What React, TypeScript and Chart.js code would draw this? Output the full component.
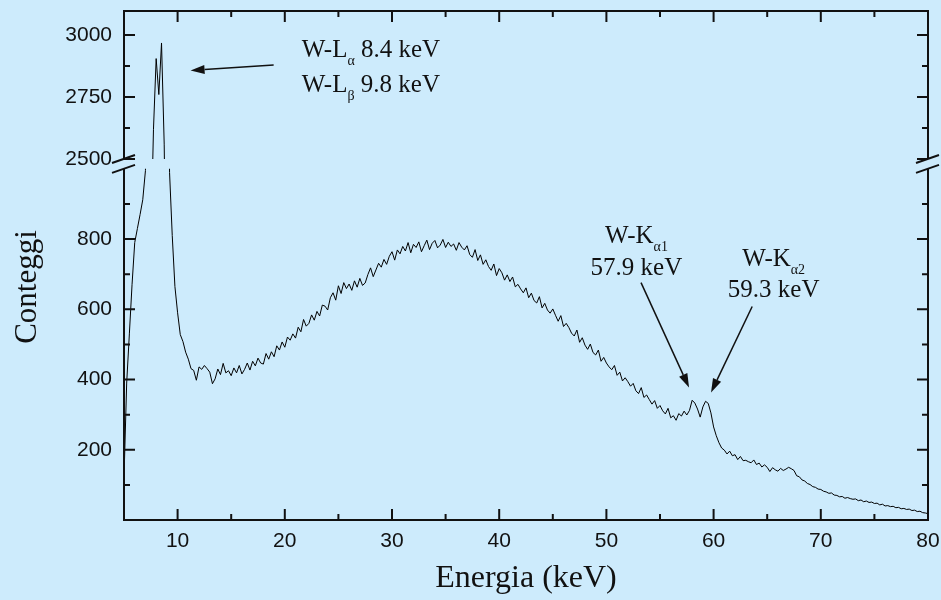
import React, { useEffect, useRef } from 'react';
import { Chart, registerables } from 'chart.js';

Chart.register(...registerables);

// ---------- data ----------
const energyStart = 5; // keV, first channel
const energyStep = 0.25; // keV per channel

// counts per channel, 5.00 .. 80.00 keV (8 channels = 2 keV per row)
const counts = [
  120, 390, 530, 670, 790, 830, 870, 912, // 5
  995, 1500, 2150, 2620, 2905, 2760, 2968, 2560, // 7
  1700, 990, 810, 665, 590, 528, 508, 478, // 9
  458, 431, 426, 398, 436, 429, 440, 431, // 11
  421, 388, 402, 430, 414, 446, 419, 425, // 13
  411, 433, 419, 440, 416, 429, 447, 427, // 15
  452, 439, 461, 447, 444, 474, 458, 479, // 17
  465, 496, 484, 507, 492, 521, 512, 530, // 19
  518, 549, 536, 571, 552, 560, 584, 569, // 21
  594, 581, 612, 609, 598, 633, 647, 626, // 23
  667, 645, 676, 659, 672, 654, 681, 663, // 25
  688, 668, 675, 699, 718, 693, 712, 731, // 27
  720, 742, 728, 751, 764, 740, 769, 758, // 29
  779, 766, 790, 761, 785, 776, 792, 764, // 31
  781, 797, 770, 788, 796, 775, 783, 799, // 33
  776, 791, 779, 786, 768, 790, 777, 769, // 35
  781, 756, 748, 770, 739, 755, 728, 741, // 37
  722, 711, 729, 696, 716, 704, 683, 698, // 39
  679, 692, 664, 671, 658, 647, 661, 633, // 41
  646, 625, 618, 636, 604, 617, 598, 589, // 43
  601, 583, 566, 582, 551, 560, 548, 532, // 45
  524, 541, 506, 519, 498, 486, 501, 477, // 47
  470, 484, 452, 463, 447, 436, 428, 440, // 49
  412, 421, 396, 405, 394, 381, 389, 368, // 51
  360, 377, 349, 356, 343, 330, 340, 318, // 53
  326, 311, 302, 318, 291, 297, 284, 303, // 55
  296, 310, 299, 312, 341, 333, 316, 293, // 57
  322, 338, 332, 305, 265, 240, 220, 205, // 59
  199, 188, 196, 183, 186, 172, 181, 169, // 61
  170, 166, 163, 171, 158, 162, 151, 157, // 63
  150, 138, 149, 143, 139, 147, 141, 145, // 65
  150, 146, 141, 126, 123, 114, 111, 104, // 67
  101, 95, 93, 88, 87, 82, 80, 76, // 69
  77, 71, 70, 66, 67, 62, 64, 61, // 71
  59, 60, 55, 57, 52, 54, 50, 51, // 73
  47, 48, 43, 45, 40, 41, 38, 39, // 75
  35, 36, 32, 33, 30, 31, 27, 28, // 77
  24, 25, 21, 20, 18, // 79 .. 80
];

const xRange = [5, 80];
const xMajorTicks = [10, 20, 30, 40, 50, 60, 70, 80];
const xMinorTicks = [15, 25, 35, 45, 55, 65, 75];

const lowRange = [0, 1028];
const lowMajorTicks = [200, 400, 600, 800];
const lowMinorTicks = [100, 300, 500, 700, 900];
const lowBreakValue = 1000;

const highRange = [2500, 3097];
const highMajorTicks = [2500, 2750, 3000];
const highMinorTicks = [2625, 2875];

const xTitle = 'Energia (keV)';
const yTitle = 'Conteggi';

// peak annotations (data coordinates)
const labelAxes = ['yHigh', 'yHigh', 'yLow', 'yLow', 'yLow', 'yLow'];
const labelX = [21.57, 21.57, 52.8, 52.8, 65.6, 65.6];
const labelY = [2911, 2770, 790, 699, 724, 636];
const labelAlign = ['left', 'left', 'center', 'center', 'center', 'center'];
const labelMain = ['W-L', 'W-L', 'W-K', '57.9 keV', 'W-K', '59.3 keV'];
const labelSub = ['α', 'β', 'α1', '', 'α2', ''];
const labelRest = [' 8.4 keV', ' 9.8 keV', '', '', '', ''];

const arrowAxes = ['yHigh', 'yLow', 'yLow'];
const arrowFrom = [[18.96, 2879], [53.23, 676], [63.6, 608]];
const arrowTo = [[11.21, 2857], [57.71, 377], [59.76, 363]];

// ---------- styles ----------
const BG = '#cdebfc';
const INK = '#111111';
const SANS = '"Liberation Sans", Arial, sans-serif';
const SERIF = '"Liberation Serif", "Times New Roman", serif';

function drawRich(ctx: CanvasRenderingContext2D, x: number, y: number, align: string, main: string, sub: string, rest: string) {
  const mainFont = `25px ${SERIF}`;
  const subFont = `14px ${SERIF}`;
  ctx.font = mainFont;
  const w1 = ctx.measureText(main).width;
  const w3 = rest ? ctx.measureText(rest).width : 0;
  ctx.font = subFont;
  const w2 = sub ? ctx.measureText(sub).width : 0;
  const total = w1 + w2 + w3;
  let cx = align === 'center' ? x - total / 2 : x;
  ctx.textAlign = 'left';
  ctx.textBaseline = 'alphabetic';
  ctx.font = mainFont;
  ctx.fillText(main, cx, y);
  cx += w1;
  if (sub) {
    ctx.font = subFont;
    ctx.fillText(sub, cx, y + 8);
    cx += w2;
  }
  if (rest) {
    ctx.font = mainFont;
    ctx.fillText(rest, cx, y);
  }
}

function drawArrow(ctx: CanvasRenderingContext2D, x1: number, y1: number, x2: number, y2: number) {
  const ang = Math.atan2(y2 - y1, x2 - x1);
  const len = 14;
  const hw = 4.5;
  const bx = x2 - len * Math.cos(ang);
  const by = y2 - len * Math.sin(ang);
  ctx.lineWidth = 1.5;
  ctx.beginPath();
  ctx.moveTo(x1, y1);
  ctx.lineTo(bx, by);
  ctx.stroke();
  ctx.beginPath();
  ctx.moveTo(x2, y2);
  ctx.lineTo(bx + hw * Math.sin(ang), by - hw * Math.cos(ang));
  ctx.lineTo(bx - hw * Math.sin(ang), by + hw * Math.cos(ang));
  ctx.closePath();
  ctx.fill();
}

const bgPlugin = {
  id: 'bgFill',
  beforeDraw(chart: any) {
    const { ctx, width, height } = chart;
    ctx.save();
    ctx.fillStyle = BG;
    ctx.fillRect(0, 0, width, height);
    ctx.restore();
  },
};

const clipPlugin = {
  id: 'segmentClip',
  beforeDatasetDraw(chart: any, args: any) {
    const { ctx, chartArea } = chart;
    const ys = args.meta.yScale;
    let top = ys.top;
    const bottom = ys.bottom;
    if (ys.id === 'yLow') top = ys.getPixelForValue(lowBreakValue);
    ctx.save();
    ctx.beginPath();
    ctx.rect(chartArea.left, top, chartArea.right - chartArea.left, bottom - top);
    ctx.clip();
  },
  afterDatasetDraw(chart: any) {
    chart.ctx.restore();
  },
};

const framePlugin = {
  id: 'frame',
  afterDraw(chart: any) {
    const { ctx, chartArea } = chart;
    const { left, right, top, bottom } = chartArea;
    const xs = chart.scales.x;
    const yH = chart.scales.yHigh;
    const yL = chart.scales.yLow;
    const brTop = yH.bottom;
    const brBot = yL.getPixelForValue(lowBreakValue);
    ctx.save();
    ctx.strokeStyle = INK;
    ctx.fillStyle = INK;
    ctx.lineWidth = 2;
    ctx.lineCap = 'butt';
    // frame lines with break
    ctx.beginPath();
    ctx.moveTo(left, top); ctx.lineTo(right, top);
    ctx.moveTo(left, bottom); ctx.lineTo(right, bottom);
    ctx.moveTo(left, top - 1); ctx.lineTo(left, brTop);
    ctx.moveTo(left, brBot); ctx.lineTo(left, bottom + 1);
    ctx.moveTo(right, top - 1); ctx.lineTo(right, brTop);
    ctx.moveTo(right, brBot); ctx.lineTo(right, bottom + 1);
    ctx.stroke();
    // x ticks (bottom and top, inward)
    ctx.beginPath();
    xMajorTicks.forEach((v) => {
      const px = xs.getPixelForValue(v);
      ctx.moveTo(px, bottom); ctx.lineTo(px, bottom - 11);
      ctx.moveTo(px, top); ctx.lineTo(px, top + 11);
    });
    xMinorTicks.forEach((v) => {
      const px = xs.getPixelForValue(v);
      ctx.moveTo(px, bottom); ctx.lineTo(px, bottom - 6);
      ctx.moveTo(px, top); ctx.lineTo(px, top + 6);
    });
    // y ticks (left and right, inward)
    const yt = (sc: any, v: number, len: number) => {
      const py = sc.getPixelForValue(v);
      ctx.moveTo(left, py); ctx.lineTo(left + len, py);
      ctx.moveTo(right, py); ctx.lineTo(right - len, py);
    };
    lowMajorTicks.forEach((v) => yt(yL, v, 11));
    lowMinorTicks.forEach((v) => yt(yL, v, 6));
    highMajorTicks.forEach((v) => yt(yH, v, 11));
    highMinorTicks.forEach((v) => yt(yH, v, 6));
    ctx.stroke();
    // break marks
    ctx.beginPath();
    [left, right].forEach((ax) => {
      [brTop, brBot].forEach((py) => {
        ctx.moveTo(ax - 12, py + 4);
        ctx.lineTo(ax + 11, py - 4);
      });
    });
    ctx.stroke();
    // y title
    ctx.save();
    ctx.translate(36, 287);
    ctx.rotate(-Math.PI / 2);
    ctx.font = `31px ${SERIF}`;
    ctx.textAlign = 'center';
    ctx.textBaseline = 'alphabetic';
    ctx.fillText(yTitle, 0, 0);
    ctx.restore();
    // annotations
    labelMain.forEach((m, i) => {
      const sc = chart.scales[labelAxes[i]];
      drawRich(ctx, xs.getPixelForValue(labelX[i]), sc.getPixelForValue(labelY[i]), labelAlign[i], m, labelSub[i], labelRest[i]);
    });
    arrowFrom.forEach((f, i) => {
      const sc = chart.scales[arrowAxes[i]];
      const t = arrowTo[i];
      drawArrow(ctx, xs.getPixelForValue(f[0]), sc.getPixelForValue(f[1]), xs.getPixelForValue(t[0]), sc.getPixelForValue(t[1]));
    });
    ctx.restore();
  },
};

export default function App() {
  const ref = useRef<HTMLCanvasElement>(null);
  useEffect(() => {
    document.body.style.margin = '0';
    document.body.style.background = BG;
    const canvas = ref.current;
    if (!canvas) return;
    const points = counts.map((c, i) => ({ x: energyStart + i * energyStep, y: c }));
    const tickFont = { family: SANS, size: 21, lineHeight: 1 };
    const plain = (v: any) => String(v);
    const yAfterFit = (s: any) => {
      s.width = 124;
      s.paddingTop = 0;
      s.paddingBottom = 0;
    };
    const chart = new Chart(canvas, {
      type: 'line',
      data: {
        datasets: [
          { data: points, yAxisID: 'yLow', borderColor: '#000', borderWidth: 1, pointRadius: 0, tension: 0, fill: false },
          { data: points, yAxisID: 'yHigh', borderColor: '#000', borderWidth: 1, pointRadius: 0, tension: 0, fill: false },
        ],
      },
      options: {
        animation: false,
        responsive: false,
        events: [],
        layout: { padding: { top: 11, right: 13, left: 0, bottom: 0 } },
        plugins: { legend: { display: false }, tooltip: { enabled: false }, title: { display: false } },
        scales: {
          x: {
            type: 'linear',
            min: xRange[0],
            max: xRange[1],
            grid: { display: false, drawTicks: false },
            border: { display: false },
            ticks: { font: tickFont, color: INK, padding: 11, autoSkip: false, maxRotation: 0, callback: plain },
            afterBuildTicks: (s: any) => { s.ticks = xMajorTicks.map((v) => ({ value: v })); },
            afterFit: (s: any) => { s.height = 80; s.paddingLeft = 0; s.paddingRight = 0; },
            title: { display: true, text: xTitle, color: INK, font: { family: SERIF, size: 32 }, padding: { top: 0, bottom: 2 } },
          },
          yHigh: {
            type: 'linear',
            position: 'left',
            stack: 'y',
            stackWeight: 148,
            weight: 2,
            min: highRange[0],
            max: highRange[1],
            grid: { display: false, drawTicks: false },
            border: { display: false },
            ticks: { font: tickFont, color: INK, padding: 12, autoSkip: false, callback: plain },
            afterBuildTicks: (s: any) => { s.ticks = highMajorTicks.map((v) => ({ value: v })); },
            afterFit: yAfterFit,
          },
          yLow: {
            type: 'linear',
            position: 'left',
            stack: 'y',
            stackWeight: 361,
            weight: 1,
            min: lowRange[0],
            max: lowRange[1],
            grid: { display: false, drawTicks: false },
            border: { display: false },
            ticks: { font: tickFont, color: INK, padding: 12, autoSkip: false, callback: plain },
            afterBuildTicks: (s: any) => { s.ticks = lowMajorTicks.map((v) => ({ value: v })); },
            afterFit: yAfterFit,
          },
        },
      } as any,
      plugins: [bgPlugin, clipPlugin, framePlugin],
    });
    return () => chart.destroy();
  }, []);
  return (
    <div style={{ position: 'fixed', left: 0, top: 0, width: 941, height: 600, background: BG }}>
      <canvas ref={ref} width={941} height={600} style={{ display: 'block', width: 941, height: 600 }} />
    </div>
  );
}
